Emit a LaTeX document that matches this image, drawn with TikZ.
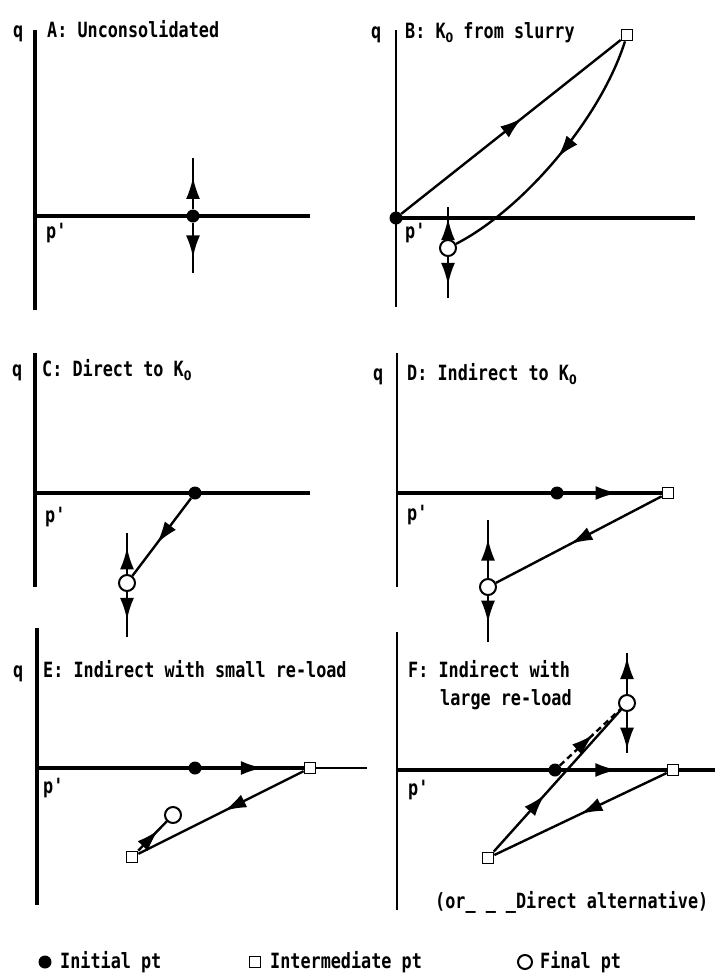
\documentclass[tikz,border=0pt]{standalone}
\usepackage{fontspec}
\setmainfont{DejaVu Sans Mono}[FakeStretch=0.8]
\newfontfamily\subfont{DejaVu Sans}[FakeStretch=0.85]
\usetikzlibrary{arrows.meta,decorations.markings}
\newcommand{\kzero}{K\raisebox{-4pt}{\subfont\bfseries\fontsize{13}{13}\selectfont 0}}
\begin{document}
\begin{tikzpicture}[x=1pt,y=-1pt,
  axis/.style={line width=3.2pt},
  thinaxis/.style={line width=2.2pt},
  conn/.style={line width=2.4pt},
  initpt/.style={circle,fill=black,inner sep=0pt,minimum size=13pt},
  interpt/.style={rectangle,draw=black,fill=white,line width=1.7pt,inner sep=0pt,minimum size=11pt},
  finalpt/.style={circle,draw=black,fill=white,line width=2pt,inner sep=0pt,minimum size=16pt},
  arrowat/.style={postaction={decorate},decoration={markings,mark=at position #1 with {\arrow{Latex[length=22pt,width=14pt]}}}},
  lbl/.style={anchor=base west,inner sep=0pt,font=\fontsize{21}{22}\selectfont\bfseries},
]
\useasboundingbox (0,0) rectangle (715,978);
\fill[white] (0,0) rectangle (715,978);

% ---------- Panel A ----------
\draw[axis] (35,30) -- (35,310);
\draw[axis] (35,216) -- (310,216);
\node[lbl] (qa) at (13,37) {q};
\node[lbl] (ta) at (47,37) {A: Unconsolidated};
\node[lbl] (pa) at (46,238) {p\textquotesingle};
\node[initpt] (a1) at (193,216) {};
\coordinate (a1u) at (193,158);
\coordinate (a1d) at (193,273);
\draw[conn,arrowat=0.63] (a1) -- (a1u);
\draw[conn,arrowat=0.69] (a1) -- (a1d);

% ---------- Panel B ----------
\draw[thinaxis] (396,30) -- (396,307);
\draw[axis] (396,218) -- (695,218);
\node[lbl] (qb) at (371,38) {q};
\node[lbl] (tb) at (405,38) {B: \kzero{} from slurry};
\node[lbl] (pb) at (405,238) {p\textquotesingle};
\node[initpt] (b1) at (396,218) {};
\node[interpt] (b2) at (627,35) {};
\node[finalpt] (b3) at (448,248) {};
\draw[conn,arrowat=0.55] (b1) -- (b2);
\draw[conn,arrowat=0.5] (b2) .. controls (600,120) and (522,210) .. (b3);
\coordinate (b3u) at (448,207);
\coordinate (b3d) at (448,298);
\draw[conn,arrowat=0.65] (b3) -- (b3u);
\draw[conn,arrowat=0.68] (b3) -- (b3d);

% ---------- Panel C ----------
\draw[axis] (35,353) -- (35,587);
\draw[axis] (35,493) -- (310,493);
\node[lbl] (qc) at (12,376) {q};
\node[lbl] (tc) at (42,376) {C: Direct to \kzero};
\node[lbl] (pc) at (45,522) {p\textquotesingle};
\node[initpt] (c1) at (195,493) {};
\node[finalpt] (c2) at (127,583) {};
\draw[conn,arrowat=0.58] (c1) -- (c2);
\coordinate (c2u) at (127,533);
\coordinate (c2d) at (127,637);
\draw[conn,arrowat=0.65] (c2) -- (c2u);
\draw[conn,arrowat=0.62] (c2) -- (c2d);

% ---------- Panel D ----------
\draw[thinaxis] (397,353) -- (397,587);
\draw[axis] (397,493) -- (668,493);
\node[lbl] (qd) at (373,380) {q};
\node[lbl] (td) at (407,380) {D: Indirect to \kzero};
\node[lbl] (pd) at (407,520) {p\textquotesingle};
\node[initpt] (d1) at (557,493) {};
\node[interpt] (d2) at (668,493) {};
\node[finalpt] (d3) at (488,587) {};
\draw[conn,arrowat=0.55] (d1) -- (d2);
\draw[conn,arrowat=0.55] (d2) -- (d3);
\coordinate (d3u) at (488,520);
\coordinate (d3d) at (488,642);
\draw[conn,arrowat=0.68] (d3) -- (d3u);
\draw[conn,arrowat=0.58] (d3) -- (d3d);

% ---------- Panel E ----------
\draw[axis] (37,628) -- (37,905);
\draw[axis] (37,768) -- (310,768);
\draw[conn] (310,768) -- (367,768);
\node[lbl] (qe) at (13,677) {q};
\node[lbl] (te) at (43,677) {E: Indirect with small re-load};
\node[lbl] (pe) at (43,793) {p\textquotesingle};
\node[initpt] (e1) at (195,768) {};
\node[interpt] (e2) at (310,768) {};
\node[interpt] (e3) at (132,857) {};
\node[finalpt] (e4) at (173,815) {};
\draw[conn,arrowat=0.6] (e1) -- (e2);
\draw[conn,arrowat=0.48] (e2) -- (e3);
\draw[conn,arrowat=0.7] (e3) -- (e4);

% ---------- Panel F ----------
\draw[thinaxis] (397,632) -- (397,910);
\draw[axis] (397,770) -- (715,770);
\node[lbl] (tf1) at (408,677) {F: Indirect with};
\node[lbl] (tf2) at (440,705) {large re-load};
\node[lbl] (pf) at (408,795) {p\textquotesingle};
\node[lbl] (tf3) at (435,908) {(or\_ \_ \_Direct alternative)};
\node[initpt] (f1) at (555,770) {};
\node[interpt] (f2) at (673,770) {};
\node[interpt] (f3) at (488,858) {};
\node[finalpt] (f4) at (627,703) {};
\draw[conn,arrowat=0.53] (f1) -- (f2);
\draw[conn,arrowat=0.5] (f2) -- (f3);
\draw[conn,arrowat=0.4] (f3) -- (f4);
\draw[conn,dash pattern=on 6pt off 4pt,arrowat=0.55] (f1) -- (f4);
\coordinate (f4u) at (627,653);
\coordinate (f4d) at (627,753);
\draw[conn,arrowat=0.9] (f4) -- (f4u);
\draw[conn,arrowat=0.92] (f4) -- (f4d);

% ---------- Legend ----------
\node[initpt] (l1) at (45,962) {};
\node[lbl] (lt1) at (60,968) {Initial pt};
\node[interpt] (l2) at (255,962) {};
\node[lbl] (lt2) at (270,968) {Intermediate pt};
\node[finalpt,minimum size=14pt] (l3) at (525,962) {};
\node[lbl] (lt3) at (540,968) {Final pt};
\end{tikzpicture}
\end{document}
